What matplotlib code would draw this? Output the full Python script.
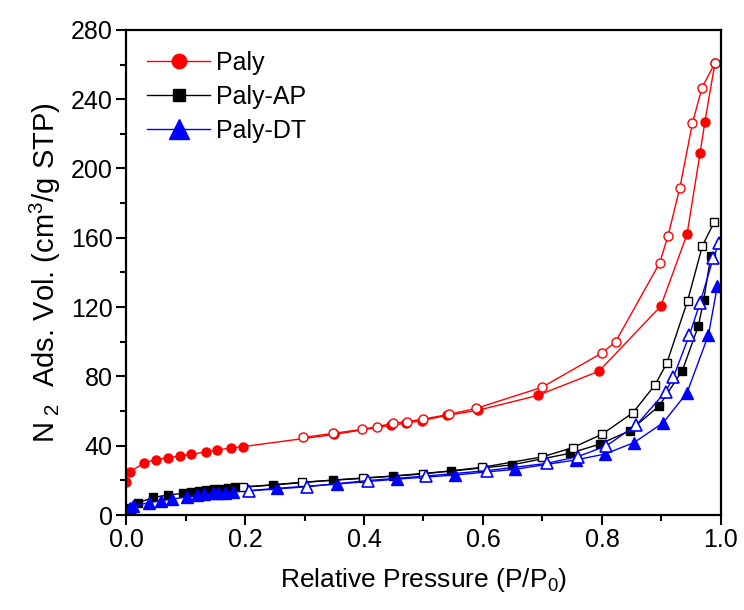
import matplotlib
matplotlib.use("Agg")
import matplotlib.pyplot as plt
from matplotlib.ticker import MultipleLocator

plt.rcParams['font.family'] = ['Liberation Sans', 'DejaVu Sans']
plt.rcParams['mathtext.default'] = 'regular'

# Paly (red) - adsorption (filled) and desorption (open)
paly_ads_p = [0.0, 0.007, 0.03, 0.05, 0.07, 0.09, 0.11, 0.135, 0.153, 0.176, 0.197,
              0.35, 0.445, 0.47, 0.497, 0.54, 0.592, 0.692, 0.795, 0.899, 0.943, 0.965, 0.973, 0.99]
paly_ads_v = [19, 25, 30, 32, 33, 34, 35, 36.5, 37.5, 38.7, 39.5,
              46.5, 51.8, 53, 54.5, 57.5, 60.5, 69, 83, 120.6, 162, 209, 227, 261]
paly_des_p = [0.99, 0.968, 0.952, 0.931, 0.911, 0.897, 0.823, 0.80, 0.699, 0.589,
              0.543, 0.50, 0.472, 0.448, 0.422, 0.396, 0.348, 0.298]
paly_des_v = [261, 246.5, 226, 189, 161, 145.5, 100, 93.5, 73.7, 61.6,
              58.1, 55.4, 53.9, 52.9, 51, 49.4, 47.1, 44.8]

# Paly-AP (black)
ap_ads_p = [0.005, 0.02, 0.046, 0.071, 0.095, 0.109, 0.123, 0.134, 0.148, 0.16, 0.172, 0.183,
            0.247, 0.348, 0.448, 0.547, 0.648, 0.746, 0.797, 0.847, 0.896, 0.935, 0.962, 0.971, 0.983]
ap_ads_v = [4, 7, 10.2, 11.5, 12.5, 13.5, 13.9, 14.4, 14.8, 15.2, 15.6, 16,
            17.3, 20.2, 22.5, 25.4, 28.9, 35.6, 41, 48.7, 62.9, 83.3, 109, 124, 149.5]
ap_des_p = [0.989, 0.969, 0.944, 0.909, 0.889, 0.852, 0.80, 0.751, 0.699, 0.598,
            0.499, 0.399, 0.295, 0.197]
ap_des_v = [169.3, 155.5, 123.7, 87.6, 75, 59, 46.6, 38.9, 33.5, 27.5,
            23.7, 21.2, 18.9, 16]

# Paly-DT (blue)
dt_ads_p = [0.007, 0.012, 0.038, 0.059, 0.077, 0.103, 0.119, 0.131, 0.146, 0.155, 0.166, 0.18,
            0.253, 0.355, 0.455, 0.553, 0.654, 0.756, 0.805, 0.854, 0.903, 0.943, 0.979, 0.994]
dt_ads_v = [3.9, 5.2, 7.1, 8.3, 9.1, 10.6, 11.5, 11.9, 12.5, 12.9, 12.9, 13.3,
            15.4, 17.9, 20.7, 23.1, 26.4, 31.8, 35.2, 41.8, 53.3, 70.6, 103.9, 132.2]
dt_des_p = [0.997, 0.987, 0.965, 0.947, 0.92, 0.907, 0.858, 0.807, 0.759, 0.707,
            0.606, 0.504, 0.406, 0.304, 0.206]
dt_des_v = [157, 148.2, 122.6, 103.9, 79.5, 71.2, 52, 39.8, 33.7, 29.8,
            25.6, 22.5, 19.9, 16.3, 13.9]

fig = plt.figure(figsize=(7.44, 6.10), dpi=100)
ax = fig.add_axes([0.1694, 0.1557, 0.7996, 0.7953])

# adsorption branches (filled)
ax.plot(paly_ads_p, paly_ads_v, color='red', lw=1, marker='o', ms=6.5,
        mfc='red', mec='red', label='Paly')
ax.plot(ap_ads_p, ap_ads_v, color='black', lw=1, marker='s', ms=5.5,
        mfc='black', mec='black', label='Paly-AP')
ax.plot(dt_ads_p, dt_ads_v, color='blue', lw=1, marker='^', ms=9,
        mfc='blue', mec='blue', label='Paly-DT')

# desorption branches (open)
ax.plot(paly_des_p, paly_des_v, color='red', lw=1, marker='o', ms=6.5,
        mfc='white', mec='red', mew=1)
ax.plot(ap_des_p, ap_des_v, color='black', lw=1, marker='s', ms=5.5,
        mfc='white', mec='black', mew=1)
ax.plot(dt_des_p, dt_des_v, color='blue', lw=1, marker='^', ms=9,
        mfc='white', mec='blue', mew=1.2)

ax.set_xlim(0, 1.0)
ax.set_ylim(0, 280)
ax.xaxis.set_major_locator(MultipleLocator(0.2))
ax.xaxis.set_minor_locator(MultipleLocator(0.1))
ax.yaxis.set_major_locator(MultipleLocator(40))
ax.yaxis.set_minor_locator(MultipleLocator(20))
ax.set_xticks([0, 0.2, 0.4, 0.6, 0.8, 1.0])
ax.set_xticklabels(['0.0', '0.2', '0.4', '0.6', '0.8', '1.0'])

for s in ax.spines.values():
    s.set_linewidth(1.6)
ax.tick_params(which='major', direction='out', length=7.5, width=1.5, labelsize=18,
               pad=2, top=False, right=False)
ax.tick_params(which='minor', direction='out', length=4.5, width=1.5,
               top=False, right=False)

ax.set_xlabel('Relative Pressure (P/P$_0$)', fontsize=19, labelpad=10)
ax.set_ylabel('N$_{\\ 2}$  Ads. Vol. (cm$^3$/g STP)', fontsize=21, labelpad=6)

ax.legend(loc='upper left', frameon=False, fontsize=18, markerscale=1.6,
          handlelength=2.5, handletextpad=0.25, labelspacing=0.4,
          borderaxespad=0.55, borderpad=0.3)

fig.savefig('out.png', dpi=100)
